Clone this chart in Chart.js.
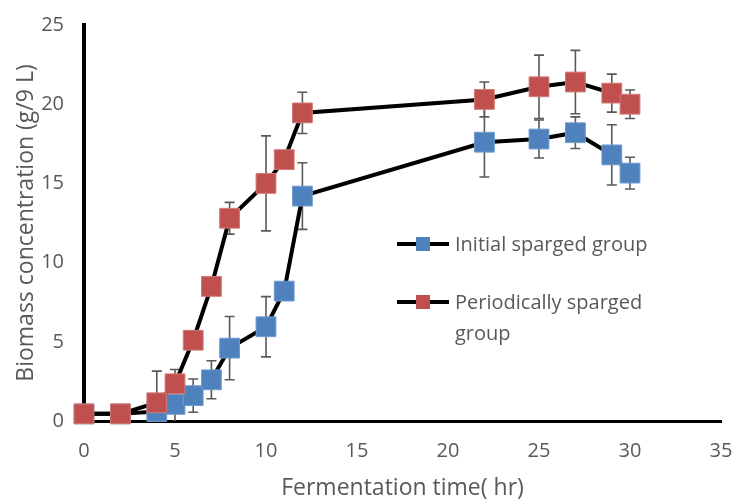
<!DOCTYPE html>
<html>
<head>
<meta charset="utf-8">
<script src="https://cdn.jsdelivr.net/npm/chart.js@4/dist/chart.umd.min.js"></script>
<style>
  html, body { margin: 0; padding: 0; background: #fff; }
  #wrap { width: 736px; height: 502px; }
</style>
</head>
<body>
<div id="wrap"><canvas id="myChart" width="736" height="502"></canvas></div>
<script>
const time = [0, 2, 4, 5, 6, 7, 8, 10, 11, 12, 22, 25, 27, 29, 30];

const initialSparged = [0.45, 0.45, 0.6, 1.05, 1.6, 2.6, 4.6, 5.95, 8.2, 14.2, 17.6, 17.8, 18.2, 16.8, 15.65];
const initialErr = [0, 0, 0, 2.2, 1.05, 1.2, 2.0, 1.9, 0, 2.1, 2.2, 1.2, 1.0, 1.9, 1.0];

const periodicSparged = [0.45, 0.45, 1.15, 2.35, 5.1, 8.5, 12.8, 15.0, 16.5, 19.45, 20.3, 21.1, 21.4, 20.7, 20.0];
const periodicErr = [0, 0, 2.0, 0, 0, 0, 1.0, 3.0, 0, 1.3, 1.1, 2.0, 2.0, 1.2, 0.9];

const xTicks = [0, 5, 10, 15, 20, 25, 30, 35];
const yTicks = [0, 5, 10, 15, 20, 25];

const seriesNames = ['Initial sparged group', ['Periodically sparged', 'group']];
const blue = '#4F81BD';
const red = '#C0504D';
const grey = '#595959';
const font = "'Open Sans', 'Liberation Sans', sans-serif";

const toPoints = (ys) => ys.map((y, i) => ({ x: time[i], y: y }));

// error bars go behind the markers, clipped to the plot area like excel does
const errorBars = {
    id: 'errorBars',
    beforeDatasetsDraw(chart) {
        const ctx = chart.ctx;
        const a = chart.chartArea;
        const xs = chart.scales.x, ys = chart.scales.y;
        ctx.save();
        ctx.beginPath();
        ctx.rect(a.left - 20, a.top, a.right - a.left + 40, a.bottom - a.top);
        ctx.clip();
        ctx.strokeStyle = grey;
        ctx.lineWidth = 1.6;
        [[initialSparged, initialErr], [periodicSparged, periodicErr]].forEach(([vals, errs]) => {
            vals.forEach((v, i) => {
                if (!errs[i]) return;
                const px = xs.getPixelForValue(time[i]);
                const top = ys.getPixelForValue(v + errs[i]);
                const bot = ys.getPixelForValue(v - errs[i]);
                ctx.beginPath();
                ctx.moveTo(px, top); ctx.lineTo(px, bot);
                ctx.moveTo(px - 5, top); ctx.lineTo(px + 5, top);
                ctx.moveTo(px - 5, bot); ctx.lineTo(px + 5, bot);
                ctx.stroke();
            });
        });
        ctx.restore();
    }
};

// legend sits inside the plot, second label wraps onto two lines
const insideLegend = {
    id: 'insideLegend',
    afterDraw(chart) {
        const ctx = chart.ctx;
        const a = chart.chartArea;
        const x0 = a.left + 313;
        const rows = [a.top + 219, a.top + 277];
        const colors = [blue, red];
        ctx.save();
        ctx.font = '20px ' + font;
        ctx.textBaseline = 'middle';
        ctx.fillStyle = grey;
        rows.forEach((y, i) => {
            ctx.strokeStyle = '#000';
            ctx.lineWidth = 4;
            ctx.beginPath();
            ctx.moveTo(x0, y); ctx.lineTo(x0 + 52, y);
            ctx.stroke();
            ctx.fillStyle = colors[i];
            ctx.fillRect(x0 + 19, y - 7, 14, 14);
            ctx.fillStyle = grey;
            const lines = [].concat(seriesNames[i]);
            lines.forEach((t, k) => ctx.fillText(t, x0 + 58, y + 1 + k * 31));
        });
        ctx.restore();
    }
};

const getChart = document.getElementById('myChart').getContext('2d');
const mychart = new Chart(getChart, {
    type: 'line',
    data: {
        datasets: [{
            label: 'Initial sparged group',
            data: toPoints(initialSparged),
            borderColor: '#000',
            borderWidth: 4,
            pointStyle: 'rect',
            pointRadius: 14,
            pointHoverRadius: 14,
            pointBackgroundColor: blue,
            pointBorderColor: '#6f9bd0',
            pointBorderWidth: 1,
            clip: false,
            order: 1
        }, {
            label: 'Periodically sparged group',
            data: toPoints(periodicSparged),
            borderColor: '#000',
            borderWidth: 4,
            pointStyle: 'rect',
            pointRadius: 14,
            pointHoverRadius: 14,
            pointBackgroundColor: red,
            pointBorderColor: '#d27a78',
            pointBorderWidth: 1,
            clip: false,
            order: 0
        }]
    },
    options: {
        responsive: false,
        animation: false,
        layout: { padding: { top: 25, right: 14, left: 0, bottom: 0 } },
        scales: {
            x: {
                type: 'linear',
                min: 0,
                max: 35,
                afterBuildTicks: (s) => { s.ticks = xTicks.map(v => ({ value: v })); },
                afterFit: (s) => { s.height = 81; s.paddingLeft = 0; s.paddingRight = 0; },
                grid: { display: false, drawTicks: false },
                border: { color: '#000', width: 3 },
                ticks: { color: grey, padding: 18, font: { family: font, size: 20 } },
                title: {
                    display: true,
                    text: 'Fermentation time( hr)',
                    color: grey,
                    padding: { top: 6, bottom: 0 },
                    font: { family: font, size: 23 }
                }
            },
            y: {
                min: 0,
                max: 25,
                afterBuildTicks: (s) => { s.ticks = yTicks.map(v => ({ value: v })); },
                afterFit: (s) => { s.width = 84; s.paddingTop = 0; s.paddingBottom = 0; },
                grid: { display: false, drawTicks: false },
                border: { color: '#000', width: 4 },
                ticks: { color: grey, padding: 20, font: { family: font, size: 20 } },
                title: {
                    display: true,
                    text: 'Biomass concentration (g/9 L)',
                    color: grey,
                    padding: { top: 13, bottom: 0 },
                    font: { family: font, size: 23 }
                }
            }
        },
        plugins: {
            legend: { display: false },
            tooltip: { enabled: false }
        }
    },
    plugins: [errorBars, insideLegend]
});
</script>
</body>
</html>
